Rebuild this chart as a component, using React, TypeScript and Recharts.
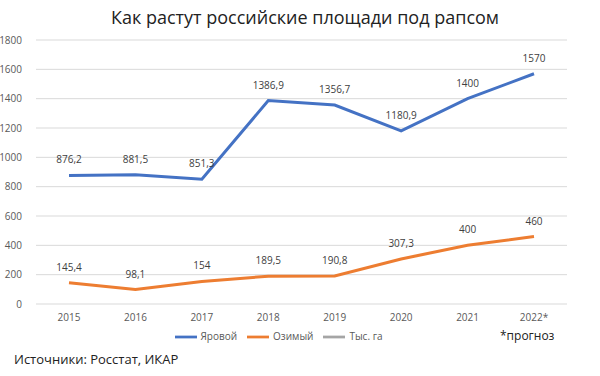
import { LineChart, Line, XAxis, YAxis, CartesianGrid, Legend, LabelList } from 'recharts'

const years = ['2015', '2016', '2017', '2018', '2019', '2020', '2021', '2022*']
const spring = [876.2, 881.5, 851.3, 1386.9, 1356.7, 1180.9, 1400, 1570]
const winter = [145.4, 98.1, 154, 189.5, 190.8, 307.3, 400, 460]
const yTicks = [0, 200, 400, 600, 800, 1000, 1200, 1400, 1600, 1800]

// s1 / s2 / s3 keep the legend in the original order (Яровой, Озимый, Тыс. га)
const data = years.map((y, i) => ({ year: y, s1: spring[i], s2: winter[i], s3: null }))

const FONT = '"Open Sans", "Liberation Sans", sans-serif'
const fmt = (v: any) => (typeof v === 'number' ? String(v).replace('.', ',') : '')

export default function App() {
  return (
    <div style={{ position: 'absolute', left: 0, top: 0, width: 600, height: 376, background: '#fff', fontFamily: FONT }}>
      <div style={{ position: 'absolute', top: 5, left: 0, width: 610, textAlign: 'center', fontSize: 18, color: '#222' }}>
        Как растут российские площади под рапсом
      </div>
      <LineChart width={600} height={352} data={data} margin={{ top: 40, right: 33, left: 0, bottom: 4 }}>
        <CartesianGrid vertical={false} stroke="#d9d9d9" />
        <XAxis dataKey="year" tickLine={false} axisLine={false} tick={{ fill: '#595959', fontSize: 10 }}
          height={22} tickMargin={4} padding={{ left: 33, right: 33 }} />
        <YAxis domain={[0, 1800]} ticks={yTicks} tickLine={false} axisLine={false} width={36}
          tick={{ fill: '#595959', fontSize: 10 }} tickMargin={8} />
        <Legend verticalAlign="bottom" iconType="plainline" iconSize={22} itemSorter="dataKey"
          wrapperStyle={{ fontSize: 10, color: '#595959', paddingLeft: 0 }}
          formatter={(v) => <span style={{ color: '#595959' }}>{v}</span>} />
        <Line dataKey="s1" name="Яровой" stroke="#4472c4" strokeWidth={3} dot={false} isAnimationActive={false}>
          <LabelList dataKey="s1" position="top" offset={12} formatter={fmt} style={{ fill: '#404040', fontSize: 10 }} />
        </Line>
        <Line dataKey="s2" name="Озимый" stroke="#ed7d31" strokeWidth={3} dot={false} isAnimationActive={false}>
          <LabelList dataKey="s2" position="top" offset={12} formatter={fmt} style={{ fill: '#404040', fontSize: 10 }} />
        </Line>
        <Line dataKey="s3" name="Тыс. га" stroke="#a5a5a5" strokeWidth={3} dot={false} isAnimationActive={false} />
      </LineChart>
      <div style={{ position: 'absolute', top: 327, left: 500, fontSize: 12, color: '#222' }}>*прогноз</div>
      <div style={{ position: 'absolute', top: 350, left: 14, fontSize: 13, color: '#222' }}>Источники: Росстат, ИКАР</div>
    </div>
  )
}
